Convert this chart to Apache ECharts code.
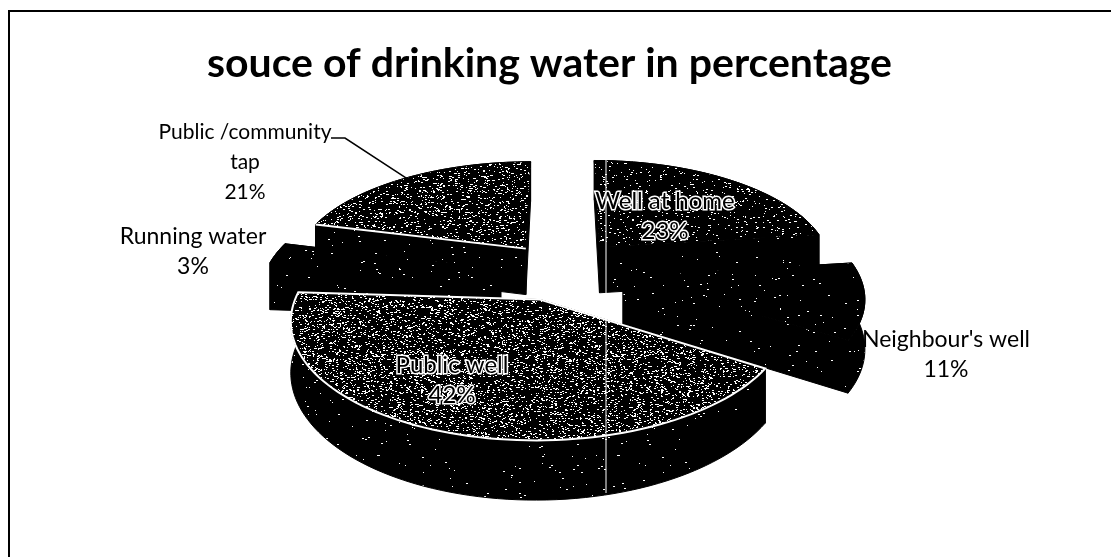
<!DOCTYPE html>
<html>
<head>
<meta charset="utf-8">
<style>html,body{margin:0;padding:0;background:#fff}#chart{width:1111px;height:557px}</style>
<script src="https://cdn.jsdelivr.net/npm/echarts@6/dist/echarts.min.js"></script>
</head>
<body>
<div id="chart"></div>
<script>
// Source of drinking water: shares in percent, clockwise from twelve o'clock.
const categories = ['Well at home', "Neighbour's well", 'Public well', 'Running water', 'Public /community\ntap'];
const shares = [23, 11, 42, 3, 21];
const chartTitle = 'souce of drinking water in percentage';

// Tilted-disc projection used for the exploded 3D pie.
const CX = 561, CY = 263, RX = 232, RY = 105, PERSP = 0.16, DEPTH = 47;
const sliceLook = [
  { shift: [.17, .157], density: .04, wall: .004, order: 1, label: [665, 216], inside: true, size: 24 },
  { shift: [.262, -.125], density: .006, wall: .004, order: 3, label: [946, 355], inside: false, size: 23 },
  { shift: [-.086, -.33], density: .11, wall: .006, order: 4, label: [452, 380], inside: true, size: 24 },
  { shift: [-.257, -.06], density: .008, wall: .004, order: 2, label: [193, 252], inside: false, size: 23 },
  { shift: [-.155, .14], density: .08, wall: .004, order: 0, label: [245, 162], inside: false, size: 21 }
];

// Small speckle tile built with an integer hash so each render is identical.
function speckle(density, seed) {
  const size = 240, c = document.createElement('canvas');
  c.width = c.height = size;
  const g = c.getContext('2d');
  g.fillStyle = '#000';
  g.fillRect(0, 0, size, size);
  g.fillStyle = '#fff';
  let h = seed >>> 0;
  for (let y = 0; y < size; y++) {
    for (let x = 0; x < size; x++) {
      h = Math.imul(h ^ (h >>> 13), 1540483477) + x * 31 + y * 17 >>> 0;
      if ((h >>> 8 & 65535) / 65536 < density) g.fillRect(x, y, 1 + (h & 1), 1);
    }
  }
  return { image: c, repeat: 'repeat' };
}

function project(wx, wy, drop) {
  const s = 1 / (1 + PERSP * wy);
  return [CX + RX * wx * s, CY - RY * wy * s + (drop || 0) * s];
}

const total = shares.reduce((a, b) => a + b, 0);
const starts = shares.map((_, i) => shares.slice(0, i).reduce((a, b) => a + b, 0) / total * Math.PI * 2);
const drawOrder = shares.map((_, i) => i).sort((a, b) => sliceLook[a].order - sliceLook[b].order);

function sliceGeometry(i) {
  const a0 = starts[i], a1 = a0 + shares[i] / total * Math.PI * 2;
  const [ox, oy] = sliceLook[i].shift;
  const arc = [];
  const n = Math.max(8, Math.round((a1 - a0) * 30));
  for (let k = 0; k <= n; k++) {
    const a = a0 + (a1 - a0) * k / n;
    arc.push([ox + Math.sin(a), oy + Math.cos(a)]);
  }
  return { arc, apex: [ox, oy] };
}

function renderSlice(params, api) {
  const i = api.value(0);
  const look = sliceLook[i];
  const g = sliceGeometry(i);
  const topArc = g.arc.map(p => project(p[0], p[1]));
  const lowArc = g.arc.map(p => project(p[0], p[1], DEPTH));
  const apexT = project(g.apex[0], g.apex[1]);
  const apexB = project(g.apex[0], g.apex[1], DEPTH);
  const wallFill = speckle(look.wall, 77 + i);
  const kids = [];
  const poly = (points, fill, z2) => ({ type: 'polygon', shape: { points }, style: { fill, stroke: '#000', lineWidth: 1 }, z2 });
  kids.push(poly(topArc.concat(lowArc.slice().reverse()), wallFill, 1));
  kids.push(poly([apexT, topArc[0], lowArc[0], apexB], wallFill, 1));
  kids.push(poly([apexT, topArc[topArc.length - 1], lowArc[lowArc.length - 1], apexB], wallFill, 1));
  kids.push(poly([apexT].concat(topArc), speckle(look.density, 1009 + i * 13), 2));
  if (i === 2) {
    kids.push({ type: 'polygon', shape: { points: [apexT].concat(topArc) }, style: { fill: 'none', stroke: '#fff', lineWidth: 2 }, z2: 3 });
  }
  if (i === 4) {
    kids.push({ type: 'polyline', shape: { points: [topArc[0], apexT] }, style: { fill: 'none', stroke: '#fff', lineWidth: 2 }, z2: 3 });
  }
  const text = categories[i] + '\n' + shares[i] + '%';
  kids.push({
    type: 'text', z2: 10,
    style: {
      text, x: look.label[0], y: look.label[1], align: 'center', verticalAlign: 'middle',
      font: look.size + 'px Lato', lineHeight: 30, fill: '#000',
      stroke: look.inside ? '#fff' : null, lineWidth: look.inside ? 3 : 0
    }
  });
  return { type: 'group', children: kids };
}

// Leader from the community tap label to the rim of its slice.
function leaderEnd() {
  const g = sliceGeometry(4);
  return project.apply(null, g.arc[Math.round((g.arc.length - 1) * 0.5)]);
}

const chart = echarts.init(document.getElementById('chart'), null, { renderer: 'canvas' });
chart.setOption({
  animation: false,
  backgroundColor: '#fff',
  title: {
    text: chartTitle, left: 202, top: 38,
    textStyle: { fontFamily: 'Lato', fontWeight: 'bold', fontSize: 41, color: '#000' }
  },
  xAxis: { show: false }, yAxis: { show: false },
  graphic: [
    { type: 'polyline', shape: { points: [[9, 557], [9, 11], [1111, 11]] }, style: { fill: 'none', stroke: '#000', lineWidth: 2 }, z: 1 },
    { type: 'line', shape: { x1: 606, y1: 160, x2: 606, y2: 493 }, style: { stroke: '#fff', lineWidth: 1 }, z: 50 },
    { type: 'polyline', shape: { points: [[331, 138], [345, 138], leaderEnd()] }, style: { fill: 'none', stroke: '#000', lineWidth: 1.5 }, z: 40 }
  ],
  series: [{
    type: 'custom',
    coordinateSystem: 'none',
    renderItem: renderSlice,
    data: drawOrder.map(i => ({ name: categories[i], value: [i, shares[i]] }))
  }]
});
</script>
</body>
</html>
